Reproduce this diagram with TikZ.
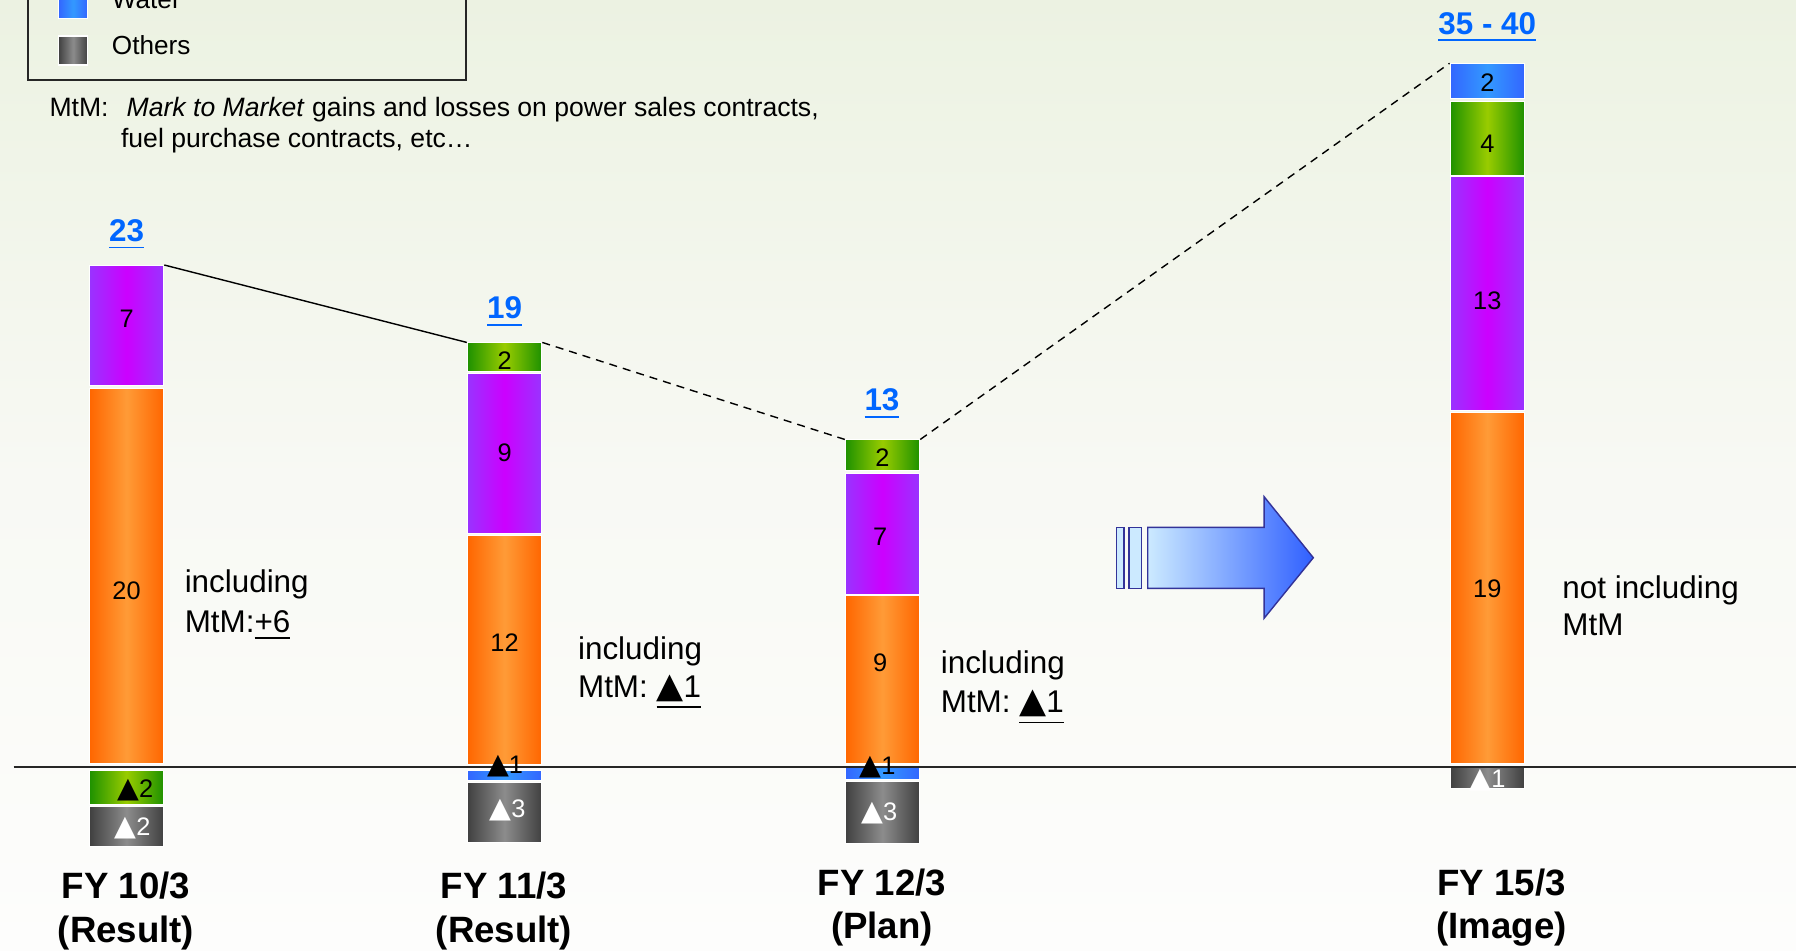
\documentclass[tikz,border=0pt]{standalone}
\usepackage{fontspec}
\usepackage{graphicx}
\setmainfont{Liberation Sans}
\newfontfamily\trifont{DejaVu Sans}
\newcommand\mytri{{\trifont\scalebox{1.12}{▲}}}
\definecolor{bgtop}{RGB}{236,242,226}
\definecolor{bgmid}{RGB}{248,249,244}
\definecolor{bgbot}{RGB}{253,253,252}
\definecolor{orE}{RGB}{255,102,0}
\definecolor{orM}{RGB}{255,155,55}
\definecolor{puE}{RGB}{153,51,255}
\definecolor{puM}{RGB}{204,0,255}
\definecolor{grE}{RGB}{30,145,0}
\definecolor{grM}{RGB}{153,204,0}
\definecolor{blE}{RGB}{51,102,255}
\definecolor{blM}{RGB}{51,153,255}
\definecolor{gyE}{RGB}{64,64,64}
\definecolor{gyM}{RGB}{140,140,140}
\definecolor{lblblue}{RGB}{0,102,255}
\definecolor{arrL}{RGB}{204,234,255}
\definecolor{arrR}{RGB}{48,96,255}
\definecolor{arrline}{RGB}{51,51,153}
\tikzset{
  seg/.style={minimum width=6.5mm, inner sep=0pt, draw=white, line width=0.25pt},
  orbar/.style={left color=orE, right color=orE, middle color=orM},
  pubar/.style={left color=puE, right color=puE, middle color=puM},
  grbar/.style={left color=grE, right color=grE, middle color=grM},
  blbar/.style={left color=blE, right color=blE, middle color=blM},
  gybar/.style={left color=gyE, right color=gyE, middle color=gyM},
  barnum/.style={inner sep=0pt, font=\fontsize{6.3pt}{7.5pt}\selectfont},
  toplbl/.style={inner sep=0pt, text=lblblue, font=\fontsize{7.8pt}{9pt}\selectfont\bfseries},
  fylbl/.style={inner sep=0pt, font=\fontsize{9.1pt}{11pt}\selectfont\bfseries},
  sidelbl/.style={inner sep=0pt, anchor=base west, font=\fontsize{7.8pt}{9.6pt}\selectfont},
  notetxt/.style={inner sep=0pt, anchor=base west, font=\fontsize{6.6pt}{8pt}\selectfont},
  legendtxt/.style={inner sep=0pt, anchor=base west, font=\fontsize{6.5pt}{8pt}\selectfont},
  solidcon/.style={draw=black, line width=0.35pt},
  dashcon/.style={draw=black, line width=0.35pt, dash pattern=on 2pt off 1.5pt},
  zeroline/.style={draw=black!85, line width=0.5pt}
}
\begin{document}
\begin{tikzpicture}[x=0.1mm,y=-0.1mm]
\useasboundingbox (0,0) rectangle (1568,830);
\clip (0,0) rectangle (1568,830);
% background
\shade[top color=bgtop,bottom color=bgmid] (0,0) rectangle (1568,420);
\shade[top color=bgmid,bottom color=bgbot] (0,419) rectangle (1568,830);
% legend
\draw[black!85, line width=0.4pt] (24.6,-40) rectangle (407,69.8);
\shadedraw[blbar, draw=white, line width=0.3pt] (51,-10) rectangle (76.7,16);
\node[legendtxt] (lwater) at (97,7.5) {Water};
\shadedraw[gybar, draw=white, line width=0.3pt] (51,31.4) rectangle (76.7,56.7);
\node[legendtxt] (lothers) at (97,48) {Others};
% note
\node[notetxt] (mtm1) at (42.6,102) {MtM:\hspace{4.5pt}\textit{Mark to Market} gains and losses on power sales contracts,};
\node[notetxt] (mtm2) at (105,129) {fuel purchase contracts, etc…};
% bar 1
\node[seg, pubar, minimum height=10.5mm]  (b1p) at (110.5,284.3) {};
\node[seg, orbar, minimum height=32.76mm] (b1o) at (110.5,503.1) {};
\node[seg, grbar, minimum height=3.01mm]  (b1g) at (110.5,687.35) {};
\node[seg, gybar, minimum height=3.49mm]  (b1k) at (110.5,721.15) {};
% bar 2
\node[seg, grbar, minimum height=2.49mm]  (b2g) at (440.5,311.85) {};
\node[seg, pubar, minimum height=13.98mm] (b2p) at (440.5,396.1) {};
\node[seg, orbar, minimum height=20.01mm] (b2o) at (440.5,567.45) {};
\node[seg, blbar, minimum height=0.88mm]  (b2b) at (440.5,676.8) {};
\node[seg, gybar, minimum height=5.26mm]  (b2k) at (440.5,709.1) {};
% bar 3
\node[seg, grbar, minimum height=2.68mm]  (b3g) at (770.5,397.5) {};
\node[seg, pubar, minimum height=10.48mm] (b3p) at (770.5,466.2) {};
\node[seg, orbar, minimum height=14.67mm] (b3o) at (770.5,593.65) {};
\node[seg, blbar, minimum height=1.1mm]   (b3b) at (770.5,674.9) {};
\node[seg, gybar, minimum height=5.36mm]  (b3k) at (770.5,709.5) {};
% bar 4
\node[seg, blbar, minimum height=3.02mm]  (b4b) at (1298.5,70.8) {};
\node[seg, grbar, minimum height=6.44mm]  (b4g) at (1298.5,120.8) {};
\node[seg, pubar, minimum height=20.42mm] (b4p) at (1298.5,256.4) {};
\node[seg, orbar, minimum height=30.69mm] (b4o) at (1298.5,513.25) {};
\node[seg, gybar, minimum height=1.83mm]  (b4k) at (1298.5,679.45) {};
% zero line
\coordinate (axL) at (12,669.6);
\coordinate (axR) at (1568,669.6);
\draw[zeroline] (axL) -- (axR);
% connectors
\draw[solidcon] (b1p.north east) -- (b2g.north west);
\draw[dashcon] (b2g.north east) -- (b3g.north west);
\draw[dashcon] (b3g.north east) -- (b4b.north west);
% arrow
\filldraw[fill=arrL, draw=arrline, line width=0.35pt] (974.9,460.4) rectangle (981.3,513.7);
\filldraw[fill=arrL, draw=arrline, line width=0.35pt] (985.7,460.4) rectangle (996.7,513.7);
\shadedraw[left color=arrL, right color=arrR, draw=arrline, line width=0.35pt, line join=miter]
  (1002,460.4) -- (1103.6,460.4) -- (1103.6,433.6) -- (1146.6,486.9) -- (1103.6,539.8) -- (1103.6,513.7) -- (1002,513.7) -- cycle;
% numbers in bars
\node[barnum] (n1p) at (110.5,278.7) {7};
\node[barnum] (n1o) at (110.5,516) {20};
\node[barnum, anchor=base] (n1g) at (118,695.9) {\mytri2};
\node[barnum, anchor=base, text=white] (n1k) at (115.7,729) {\mytri2};
\node[barnum] (n2g) at (440.5,315) {2};
\node[barnum] (n2p) at (440.5,395.4) {9};
\node[barnum] (n2o) at (440.5,561) {12};
\node[barnum, anchor=base] (n2b) at (441,675) {\mytri1};
\node[barnum, anchor=base, text=white] (n2k) at (443,713.5) {\mytri3};
\node[barnum] (n3g) at (770.5,399.5) {2};
\node[barnum] (n3p) at (768.5,468.3) {7};
\node[barnum] (n3o) at (768.5,579) {9};
\node[barnum, anchor=base] (n3b) at (766,676.6) {\mytri1};
\node[barnum, anchor=base, text=white] (n3k) at (767.6,716.5) {\mytri3};
\node[barnum] (n4b) at (1298.5,72.1) {2};
\node[barnum] (n4g) at (1298.5,125.4) {4};
\node[barnum] (n4p) at (1298.5,262.5) {13};
\node[barnum] (n4o) at (1298.5,513.7) {19};
\node[barnum, anchor=base, text=white] (n4k) at (1298.7,687.2) {\mytri1};
% totals
\node[toplbl, anchor=base] (t1) at (110.5,211) {\underline{23}};
\node[toplbl, anchor=base] (t2) at (440.5,278.4) {\underline{19}};
\node[toplbl, anchor=base] (t3) at (770,358.8) {\underline{13}};
\node[toplbl, anchor=base] (t4) at (1298.5,29.7) {\underline{35 - 40}};
% side notes
\node[sidelbl] (s1a) at (160.6,517.7) {including};
\node[sidelbl] (s1b) at (160.6,552) {MtM:\underline{+6}};
\node[sidelbl] (s2a) at (504,575.5) {including};
\node[sidelbl] (s2b) at (504,608.8) {MtM: \underline{\mytri1}};
\node[sidelbl] (s3a) at (820.7,588.4) {including};
\node[sidelbl] (s3b) at (820.7,622.2) {MtM: \underline{\mytri1}};
\node[sidelbl] (s4a) at (1363.4,522.9) {not including};
\node[sidelbl] (s4b) at (1363.4,554.8) {MtM};
% year labels
\node[fylbl, anchor=base] (fy1a) at (110,784.5) {FY 10/3};
\node[fylbl, anchor=base] (fy1b) at (110,822.5) {(Result)};
\node[fylbl, anchor=base] (fy2a) at (440,784.5) {FY 11/3};
\node[fylbl, anchor=base] (fy2b) at (440,822.5) {(Result)};
\node[fylbl, anchor=base] (fy3a) at (770,781.5) {FY 12/3};
\node[fylbl, anchor=base] (fy3b) at (770,819.5) {(Plan)};
\node[fylbl, anchor=base] (fy4a) at (1311,781.5) {FY 15/3};
\node[fylbl, anchor=base] (fy4b) at (1311,819.5) {(Image)};
\end{tikzpicture}
\end{document}
